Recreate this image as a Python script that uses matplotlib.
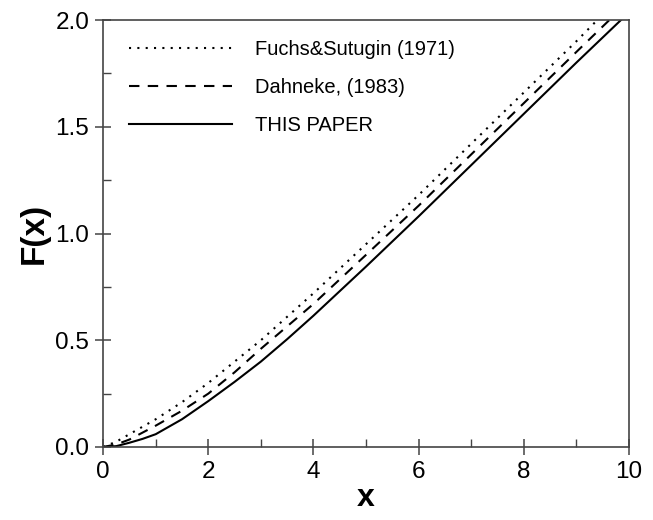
import numpy as np
import matplotlib
matplotlib.use('Agg')
import matplotlib.pyplot as plt
from matplotlib.ticker import MultipleLocator

plt.rcParams['font.family'] = ['Liberation Sans', 'DejaVu Sans']

# values
x_fs = [0, 0.25, 0.5, 1, 1.5, 2, 2.5, 3, 3.5, 4, 5, 6, 7, 8, 9, 9.4]
y_fs = [0, 0.025, 0.06, 0.13, 0.21, 0.30, 0.40, 0.50, 0.61, 0.72, 0.95, 1.18, 1.42, 1.66, 1.90, 2.0]

x_dah = [0, 0.25, 0.5, 1, 1.5, 2, 2.5, 3, 3.5, 4, 5, 6, 7, 8, 9, 9.63]
y_dah = [0, 0.012, 0.035, 0.10, 0.17, 0.25, 0.35, 0.46, 0.565, 0.67, 0.90, 1.13, 1.37, 1.61, 1.85, 2.0]

x_tp = [0, 0.25, 0.5, 0.75, 1, 1.5, 2, 2.5, 3, 3.5, 4, 5, 6, 7, 8, 9, 9.85]
y_tp = [0, 0.004, 0.02, 0.038, 0.06, 0.13, 0.215, 0.305, 0.40, 0.505, 0.615, 0.845, 1.08, 1.32, 1.56, 1.80, 2.0]

fig = plt.figure(figsize=(6.53, 5.2), dpi=100)
ax = fig.add_axes([0.158, 0.1404, 0.805, 0.8211])

ax.plot(x_fs, y_fs, color='black', lw=1.5, ls=(0, (1, 3)), label='Fuchs&Sutugin (1971)')
ax.plot(x_dah, y_dah, color='black', lw=1.5, ls=(0, (5, 4)), label='Dahneke, (1983)')
ax.plot(x_tp, y_tp, color='black', lw=1.5, label='THIS PAPER')

ax.set_xlim(0, 10)
ax.set_ylim(0, 2)
ax.xaxis.set_major_locator(MultipleLocator(2))
ax.xaxis.set_minor_locator(MultipleLocator(1))
ax.yaxis.set_major_locator(MultipleLocator(0.5))
ax.yaxis.set_minor_locator(MultipleLocator(0.25))
ax.xaxis.set_major_formatter(plt.FormatStrFormatter('%d'))
ax.yaxis.set_major_formatter(plt.FormatStrFormatter('%.1f'))

for s in ax.spines.values():
    s.set_color('#444444')
    s.set_linewidth(1.2)
ax.tick_params(which='major', direction='inout', length=12, width=1.1,
               color='#444444', labelsize=17.5, pad=4)
ax.tick_params(which='minor', direction='in', length=6, width=1.0, color='#444444')

ax.set_xlabel('x', fontsize=23, fontweight='bold', labelpad=0)
ax.set_ylabel('F(x)', fontsize=24, fontweight='bold', labelpad=4)

ax.legend(loc='upper left', bbox_to_anchor=(0.05, 0.954), frameon=False,
          fontsize=14.5, handlelength=5.1, handletextpad=1.15, labelspacing=0.95,
          borderpad=0, borderaxespad=0)

fig.savefig('out.png', dpi=100)
